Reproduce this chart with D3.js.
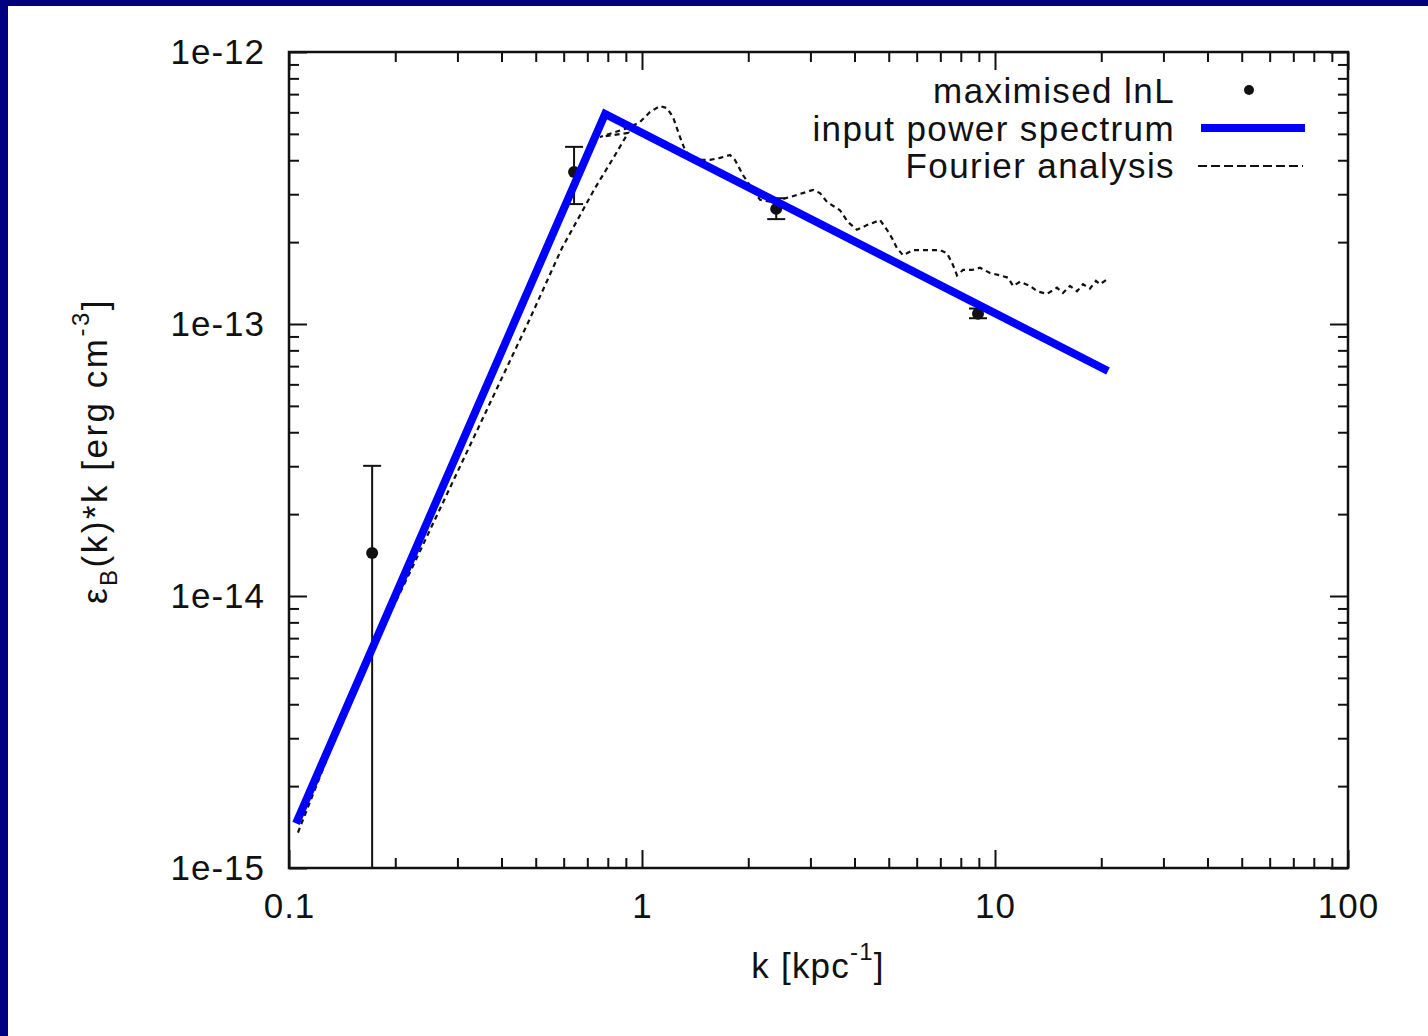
<!DOCTYPE html>
<html>
<head>
<meta charset="utf-8">
<script src="https://cdn.jsdelivr.net/npm/d3@7"></script>
<style>
  body { margin: 0; background: #fff; }
  text { font-family: "Liberation Sans", Arial, sans-serif; fill: #111; }
</style>
</head>
<body>
<div id="chart"></div>
<script>

// maximised lnL points with error bars
var fitK    = [0.172, 0.642, 2.40, 8.95];
var fitE    = [1.44e-14, 3.62e-13, 2.65e-13, 1.09e-13];
var fitLow  = [5e-16, 2.76e-13, 2.43e-13, 1.05e-13];
var fitHigh = [3.01e-14, 4.48e-13, 2.90e-13, 1.14e-13];

// input power spectrum (broken power law)
var inputK = [0.1047, 0.786, 20.9];
var inputE = [1.46e-15, 5.92e-13, 6.72e-14];

// Fourier analysis curve
var fourierK = [0.106, 0.159, 0.220, 0.347, 0.482, 0.593, 0.736, 0.839, 0.913, 0.760,
  0.913, 0.987, 1.054, 1.125, 1.177, 1.224, 1.281, 1.324, 1.395, 1.558,
  1.663, 1.776, 1.834, 1.932, 2.063, 2.160, 2.335, 2.627, 3.050, 3.193,
  3.342, 3.638, 3.833, 4.064, 4.339, 4.723, 4.943, 5.107, 5.276, 5.487,
  5.857, 6.418, 6.986, 7.311, 7.554, 7.805, 8.118, 8.608, 9.070, 9.679,
  10.33, 10.89, 11.25, 11.77, 12.57, 13.15, 14.04, 14.98, 15.58, 16.31,
  17.08, 17.76, 18.58, 19.32, 19.84, 20.63];
var fourierE = [1.35e-15, 5.13e-15, 1.22e-14, 4.26e-14, 1.05e-13, 1.90e-13, 3.16e-13, 4.18e-13, 5.04e-13, 4.87e-13,
  5.26e-13, 5.53e-13, 6.02e-13, 6.33e-13, 6.22e-13, 5.77e-13, 4.87e-13, 4.36e-13, 4.01e-13, 4.01e-13,
  4.08e-13, 4.18e-13, 4.01e-13, 3.53e-13, 3.11e-13, 2.86e-13, 2.81e-13, 2.93e-13, 3.11e-13, 3.03e-13,
  2.81e-13, 2.62e-13, 2.37e-13, 2.22e-13, 2.31e-13, 2.41e-13, 2.22e-13, 2.07e-13, 1.90e-13, 1.79e-13,
  1.87e-13, 1.87e-13, 1.87e-13, 1.82e-13, 1.68e-13, 1.51e-13, 1.58e-13, 1.58e-13, 1.61e-13, 1.54e-13,
  1.51e-13, 1.48e-13, 1.38e-13, 1.43e-13, 1.38e-13, 1.32e-13, 1.29e-13, 1.36e-13, 1.30e-13, 1.38e-13,
  1.32e-13, 1.40e-13, 1.35e-13, 1.44e-13, 1.40e-13, 1.45e-13];

var xTickLabels = {0.1: "0.1", 1: "1", 10: "10", 100: "100"};
var yTickLabels = {"-15": "1e-15", "-14": "1e-14", "-13": "1e-13", "-12": "1e-12"};
var legendLabels = ["maximised lnL", "input power spectrum", "Fourier analysis"];

var W = 1428, H = 1036;
var margin = {top: 52, right: 80, bottom: 168, left: 289},
    width = W - margin.left - margin.right,
    height = H - margin.top - margin.bottom;

var svg = d3.select("#chart")
  .append("svg")
    .attr("width", W)
    .attr("height", H);

// navy slide border (top and left)
svg.append("rect").attr("x", 0).attr("y", 0).attr("width", W).attr("height", 6).attr("fill", "#000080");
svg.append("rect").attr("x", 0).attr("y", 0).attr("width", 8).attr("height", H).attr("fill", "#000080");

var g = svg.append("g")
    .attr("transform", "translate(" + margin.left + "," + margin.top + ")");

var x = d3.scaleLog().domain([0.1, 100]).range([0, width]);
var y = d3.scaleLog().domain([1e-15, 1e-12]).range([height, 0]);

function isMajor(v) {
  var l = Math.log10(v);
  return Math.abs(l - Math.round(l)) < 1e-9;
}

function styleAxis(sel) {
  sel.select(".domain").remove();
  sel.selectAll(".tick line")
    .attr("stroke", "#111")
    .attr("stroke-width", 2);
  sel.selectAll(".tick text")
    .style("font-size", "35px")
    .style("letter-spacing", "1px")
    .attr("fill", "#111");
}

function lengthen(sel, attr, sign) {
  sel.selectAll(".tick line")
    .filter(function(d) { return isMajor(d); })
    .attr(attr, sign * 18);
}

var xt = x.ticks(), yt = y.ticks();

// bottom axis
var xb = g.append("g")
  .attr("transform", "translate(0," + height + ")")
  .call(d3.axisBottom(x).tickValues(xt).tickSize(-10).tickPadding(25)
    .tickFormat(function(d) {
      if (!isMajor(d)) return "";
      return xTickLabels[Math.pow(10, Math.round(Math.log10(d)))] || "";
    }));
styleAxis(xb);
lengthen(xb, "y2", -1);

// top axis
var xtop = g.append("g")
  .call(d3.axisTop(x).tickValues(xt).tickSize(-10).tickFormat(""));
styleAxis(xtop);
lengthen(xtop, "y2", 1);

// left axis
var yl = g.append("g")
  .call(d3.axisLeft(y).tickValues(yt).tickSize(-10).tickPadding(24)
    .tickFormat(function(d) {
      if (!isMajor(d)) return "";
      return yTickLabels[Math.round(Math.log10(d))] || "";
    }));
styleAxis(yl);
lengthen(yl, "x2", 1);

// right axis
var yr = g.append("g")
  .attr("transform", "translate(" + width + ",0)")
  .call(d3.axisRight(y).tickValues(yt).tickSize(-10).tickFormat(""));
styleAxis(yr);
lengthen(yr, "x2", -1);

// frame
g.append("rect")
  .attr("width", width)
  .attr("height", height)
  .attr("fill", "none")
  .attr("stroke", "#111")
  .attr("stroke-width", 2.5);

// clip
g.append("clipPath").attr("id", "clip")
  .append("rect").attr("width", width).attr("height", height);
var plot = g.append("g").attr("clip-path", "url(#clip)");

// Fourier analysis
var fourier = fourierK.map(function(k, i) { return [k, fourierE[i]]; });
plot.append("path")
  .datum(fourier)
  .attr("fill", "none")
  .attr("stroke", "#111")
  .attr("stroke-width", 2.2)
  .attr("stroke-dasharray", "5,4")
  .attr("d", d3.line()
    .x(function(d) { return x(d[0]); })
    .y(function(d) { return y(d[1]); }));

// error bars
var fit = fitK.map(function(k, i) { return {k: k, e: fitE[i], lo: fitLow[i], hi: fitHigh[i]}; });
var eb = plot.selectAll(".eb").data(fit).enter().append("g").attr("class", "eb");
eb.append("line")
  .attr("x1", function(d) { return x(d.k); })
  .attr("x2", function(d) { return x(d.k); })
  .attr("y1", function(d) { return y(d.lo); })
  .attr("y2", function(d) { return y(d.hi); })
  .attr("stroke", "#111").attr("stroke-width", 2);
[function(d) { return y(d.hi); }, function(d) { return y(d.lo); }].forEach(function(fy) {
  eb.append("line")
    .attr("x1", function(d) { return x(d.k) - 9; })
    .attr("x2", function(d) { return x(d.k) + 9; })
    .attr("y1", fy)
    .attr("y2", fy)
    .attr("stroke", "#111").attr("stroke-width", 2);
});
eb.append("circle")
  .attr("cx", function(d) { return x(d.k); })
  .attr("cy", function(d) { return y(d.e); })
  .attr("r", 6)
  .attr("fill", "#111");

// input power spectrum
var input = inputK.map(function(k, i) { return [k, inputE[i]]; });
plot.append("path")
  .datum(input)
  .attr("fill", "none")
  .attr("stroke", "#0000ff")
  .attr("stroke-width", 8)
  .attr("stroke-linejoin", "miter")
  .attr("d", d3.line()
    .x(function(d) { return x(d[0]); })
    .y(function(d) { return y(d[1]); }));

// legend
var leg = g.append("g").attr("transform", "translate(" + (1175 - margin.left) + "," + (103 - margin.top) + ")");
legendLabels.forEach(function(t, i) {
  leg.append("text")
    .attr("x", 0)
    .attr("y", i * 37.5)
    .attr("text-anchor", "end")
    .style("font-size", "35px")
    .style("letter-spacing", "1.4px")
    .text(t);
});
leg.append("circle").attr("cx", 74).attr("cy", -13).attr("r", 5).attr("fill", "#111");
leg.append("line").attr("x1", 26).attr("x2", 130).attr("y1", 25).attr("y2", 25)
  .attr("stroke", "#0000ff").attr("stroke-width", 8);
leg.append("line").attr("x1", 23).attr("x2", 128).attr("y1", 63).attr("y2", 63)
  .attr("stroke", "#111").attr("stroke-width", 2).attr("stroke-dasharray", "9,4");

// x axis title
var xl = svg.append("text")
  .attr("x", 818)
  .attr("y", 978)
  .attr("text-anchor", "middle")
  .style("font-size", "35px")
  .style("letter-spacing", "1.2px");
xl.append("tspan").text("k [kpc");
xl.append("tspan").attr("dy", -18).style("font-size", "24px").text("-1");
xl.append("tspan").attr("dy", 18).text("]");

// y axis title
var yl2 = svg.append("text")
  .attr("transform", "translate(107,451) rotate(-90)")
  .attr("text-anchor", "middle")
  .style("font-size", "35px")
  .style("letter-spacing", "2.5px");
yl2.append("tspan").text("ε");
yl2.append("tspan").attr("dy", 10).style("font-size", "24px").text("B");
yl2.append("tspan").attr("dy", -10).text("(k)*k [erg cm");
yl2.append("tspan").attr("dy", -18).style("font-size", "24px").text("-3");
yl2.append("tspan").attr("dy", 18).text("]");

</script>
</body>
</html>
